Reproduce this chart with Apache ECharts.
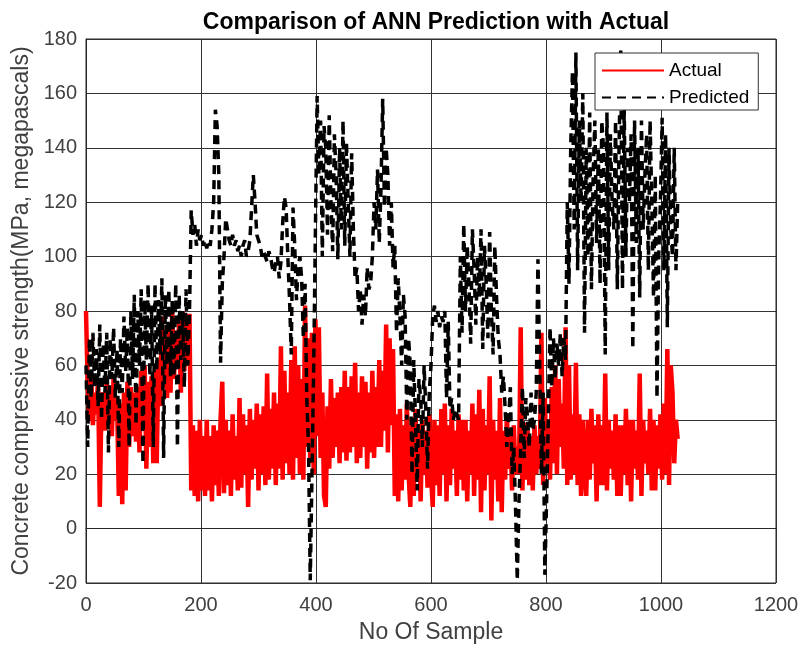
<!DOCTYPE html>
<html>
<head>
<meta charset="utf-8">
<script src="https://cdn.jsdelivr.net/npm/echarts@6/dist/echarts.min.js"></script>
<style>
html,body{margin:0;padding:0;background:#fff;}
#chart{width:798px;height:646px;}
</style>
</head>
<body>
<div id="chart"></div>
<script>
// Sample spacing of the digitised series (No Of Sample)
const sampleStep = 3;

// Actual concrete compressive strength (MPa), every 3rd sample from 0 to 1029
const actual = [
80,52,40,56,38,50,42,55,8,48,
50,36,55,38,52,34,56,40,48,12,
46,9,50,14,54,30,52,34,50,32,
52,28,58,36,60,22,54,30,56,24,
58,24,62,45,78,52,70,48,74,50,
80,55,72,60,76,50,80,58,78,62,
79,14,38,12,36,10,40,14,34,12,
40,14,34,10,38,16,36,12,40,54,
13,40,16,36,12,42,18,34,14,48,
15,42,20,38,8,44,18,40,22,46,
14,42,20,45,16,57,18,44,22,50,
16,46,22,67,18,58,24,50,20,62,
18,67,26,60,20,55,18,82,30,70,
24,72,20,77,34,74,26,50,12,8,
45,22,55,26,48,30,50,24,52,28,
58,25,52,28,56,30,61,24,50,26,
56,30,54,22,50,28,58,26,52,30,
62,30,58,36,75,28,70,38,66,12,
42,10,44,14,38,18,46,20,8,38,
12,44,18,36,10,40,20,36,15,42,
20,8,40,16,38,12,44,20,46,10,
38,16,44,22,36,12,42,18,40,14,
40,10,36,20,46,12,42,18,51,6,
44,14,38,20,56,3,40,18,36,10,
48,6,36,18,42,22,34,14,38,20,
30,20,74,14,39,18,36,16,34,14,
38,20,34,22,72,16,48,24,40,18,
52,24,60,20,55,30,46,22,74,16,
60,18,42,20,61,16,42,12,40,22,
12,40,18,44,24,38,10,42,16,38,
16,57,14,40,22,36,18,42,12,38,
12,38,20,44,16,40,10,40,22,36,
18,57,12,40,24,36,20,44,14,40,
14,38,22,42,18,46,20,66,16,60,
50,24,40,33
];

// ANN predicted strength (MPa), same samples
const predicted = [
60,30,70,48,72,52,66,45,75,40,
68,50,72,28,70,55,74,48,66,30,
70,50,78,58,74,30,80,55,86,38,
80,60,88,24,84,62,90,56,82,30,
90,58,84,64,92,26,86,60,88,56,
84,56,90,30,86,62,80,52,88,60,
80,117,108,112,104,110,106,108,104,106,
103,106,104,110,120,154,148,130,61,90,
100,114,110,106,104,108,104,106,102,104,
100,104,106,100,102,106,118,130,120,108,
106,104,100,102,100,98,102,100,96,94,
98,100,92,98,112,122,118,100,84,64,
118,104,84,96,100,92,70,90,48,30,
-19,20,60,110,159,130,150,100,148,140,
108,152,120,102,145,130,99,140,110,150,
104,142,120,100,138,110,92,96,80,88,
75,86,78,96,88,90,100,120,110,132,
105,125,158,118,140,130,104,120,96,104,
72,92,78,60,86,78,40,70,60,20,
62,40,14,55,48,30,60,44,22,50,
60,78,82,76,80,74,78,76,80,48,
76,44,48,40,44,42,40,100,72,112,
80,104,90,68,110,95,75,100,85,110,
66,104,90,70,109,80,64,104,85,70,
64,50,56,44,30,40,52,20,30,8,
-19,10,30,52,26,48,40,30,50,36,
40,50,99,60,20,50,-17,10,40,74,
52,70,55,68,60,72,56,70,62,120,
90,140,168,110,175,95,150,120,160,72,
140,100,153,88,130,150,105,140,90,150,
140,64,153,95,145,120,110,150,88,140,
176,88,155,100,140,120,145,66,150,105,
140,85,150,110,130,145,95,150,120,85,
130,48,100,120,151,95,145,74,140,110,
100,140,95,120
];

const xTicks = [0,200,400,600,800,1000,1200];
const yTicks = [-20,0,20,40,60,80,100,120,140,160,180];

const seriesNames = ['Actual','Predicted'];
const titleText = 'Comparison of ANN Prediction with Actual';
const xName = 'No Of Sample';
const yName = 'Concrete compressive strength(MPa, megapascals)';

const toPairs = arr => arr.map((v,i) => [i*sampleStep, v]);

const FONT = '"Liberation Sans",Arial,Helvetica,sans-serif';
const TXT = '#404040';

const chart = echarts.init(document.getElementById('chart'), null, {renderer:'canvas'});
chart.setOption({
  animation:false,
  backgroundColor:'#fff',
  title:{
    text:titleText,
    left:431, top:6, textAlign:'center',
    textStyle:{fontFamily:FONT, fontSize:23, fontWeight:'bold', color:'#000'}
  },
  legend:{
    data:seriesNames,
    orient:'vertical',
    left:595, top:53,
    itemWidth:62, itemHeight:14, itemGap:8,
    padding:[8,9,3,6],
    backgroundColor:'#fff',
    borderColor:'#333', borderWidth:1,
    itemStyle:{opacity:0, borderWidth:0},
    textStyle:{fontFamily:FONT, fontSize:19, color:'#000'}
  },
  grid:{left:86, right:22, top:39, bottom:63, show:true, borderColor:'#262626', borderWidth:1,
        containLabel:false, outerBoundsMode:'none'},
  xAxis:{
    type:'value',
    min:xTicks[0], max:xTicks[xTicks.length-1], interval:xTicks[1]-xTicks[0],
    name:xName, nameLocation:'middle', nameGap:38,
    nameTextStyle:{fontFamily:FONT, fontSize:23, color:TXT},
    axisLine:{show:true, lineStyle:{color:'#262626'}},
    axisTick:{show:false},
    axisLabel:{fontFamily:FONT, fontSize:20, color:TXT, margin:12, formatter: v => String(v)},
    splitLine:{show:true, lineStyle:{color:'#333', width:1}}
  },
  yAxis:{
    type:'value',
    min:yTicks[0], max:yTicks[yTicks.length-1], interval:yTicks[1]-yTicks[0],
    name:yName, nameLocation:'middle', nameGap:52,
    nameTextStyle:{fontFamily:FONT, fontSize:23, color:TXT},
    axisLine:{show:true, lineStyle:{color:'#262626'}},
    axisTick:{show:false},
    axisLabel:{fontFamily:FONT, fontSize:20, color:TXT, margin:9, formatter: v => String(v)},
    splitLine:{show:true, lineStyle:{color:'#333', width:1}}
  },
  series:[
    {
      name:seriesNames[0], type:'line', data:toPairs(actual),
      showSymbol:false, symbol:'none',
      lineStyle:{color:'#ff0000', width:4.5},
      itemStyle:{color:'#ff0000'}
    },
    {
      name:seriesNames[1], type:'line', data:toPairs(predicted),
      showSymbol:false, symbol:'none',
      lineStyle:{color:'#000', width:3.5, type:[9,6]},
      itemStyle:{color:'#000'}
    }
  ]
});
</script>
</body>
</html>
